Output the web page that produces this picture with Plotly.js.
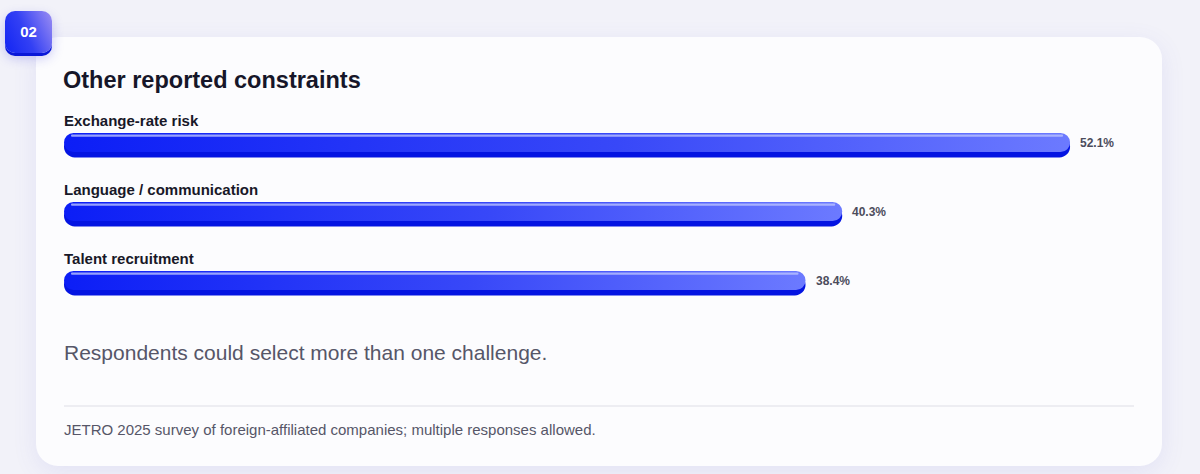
<!DOCTYPE html>
<html>
<head>
<meta charset="utf-8">
<script src="https://cdn.plot.ly/plotly-3.0.1.min.js"></script>
<style>
  html, body { margin:0; padding:0; width:1200px; height:474px; background:#f2f2f9; overflow:hidden; font-family:"Liberation Sans", Arial, sans-serif; }
  #card { position:absolute; left:36px; top:37px; width:1126px; height:429px; border-radius:22px; background:#fcfcfe; box-shadow:0 6px 24px rgba(90,90,210,0.10); }
  #badge { position:absolute; left:5px; top:11px; width:47px; height:42px; border-radius:10px;
           background:linear-gradient(65deg,#1224f3 0%,#3340f4 45%,#9c8ef2 100%);
           box-shadow:0 3px 0 #0a18d8, 0 5px 12px rgba(40,40,220,0.25);
           color:#fff; font-weight:bold; font-size:15px; line-height:41px; text-align:center; z-index:3; }
  #chart { position:absolute; left:0; top:0; width:1200px; height:474px; z-index:2; }
</style>
</head>
<body>
<div id="card"></div>
<div id="badge">02</div>
<div id="chart"></div>
<script>
const categories = ["Exchange-rate risk", "Language / communication", "Talent recruitment"];
const values = [52.1, 40.3, 38.4];
const valueLabels = ["52.1%", "40.3%", "38.4%"];
const titleText = "Other reported constraints";
const noteText = "Respondents could select more than one challenge.";
const sourceText = "JETRO 2025 survey of foreign-affiliated companies; multiple responses allowed.";

const FONT = '"Liberation Sans", Arial, sans-serif';

const shadow = {
  type:'bar', orientation:'h', x:values, y:categories,
  width:0.31, offset:-0.094,
  marker:{color:'#0414e2', line:{width:0}},
  hoverinfo:'skip'
};
const main = {
  type:'bar', orientation:'h', x:values, y:categories,
  width:0.276, offset:-0.138,
  marker:{color:'#3b4af8', line:{width:0}},
  hoverinfo:'skip'
};
const highlight = {
  type:'bar', orientation:'h', x:values, y:categories,
  width:0.03, offset:-0.115,
  marker:{color:'rgba(185,194,255,0.8)', line:{width:0}},
  hoverinfo:'skip'
};

const annotations = [];
categories.forEach((c,i)=>{
  annotations.push({x:0, y:c, xref:'x', yref:'y', xanchor:'left', yanchor:'middle', xshift:-2, yshift:22.5,
    text:'<b>'+c+'</b>', showarrow:false, font:{family:FONT, size:15, color:'#181828'}});
  annotations.push({x:values[i], y:c, xref:'x', yref:'y', xanchor:'left', yanchor:'middle', xshift:8, yshift:0,
    text:'<b>'+valueLabels[i]+'</b>', showarrow:false, font:{family:FONT, size:12, color:'#4c4c5c'}});
});
annotations.push({x:0, y:0, xref:'paper', yref:'paper', xanchor:'left', yanchor:'middle', xshift:-2, yshift:-37,
  text:noteText, showarrow:false, font:{family:FONT, size:21, color:'#565668'}});
annotations.push({x:0, y:0, xref:'paper', yref:'paper', xanchor:'left', yanchor:'middle', xshift:-2, yshift:-114,
  text:sourceText, showarrow:false, font:{family:FONT, size:15, color:'#565668'}});

const layout = {
  width:1200, height:474,
  margin:{l:64, r:66, t:108, b:159, pad:0},
  paper_bgcolor:'rgba(0,0,0,0)', plot_bgcolor:'rgba(0,0,0,0)',
  barmode:'overlay', showlegend:false,
  title:{text:'<b>'+titleText+'</b>', xref:'container', yref:'container', x:63/1200, xanchor:'left',
         y:1-80/474, yanchor:'middle', font:{family:FONT, size:23.5, color:'#161629'}},
  xaxis:{range:[0, 55.41], visible:false, showgrid:false, zeroline:false, fixedrange:true},
  yaxis:{type:'category', range:[2.5,-0.5], visible:false, showgrid:false, zeroline:false, fixedrange:true},
  annotations:annotations,
  shapes:[{type:'line', xref:'paper', yref:'paper', x0:0, x1:1, y0:-(406-315)/207, y1:-(406-315)/207,
           line:{color:'#dedee6', width:1}}]
};

function roundRect(x,y,w,h,r){
  r = Math.min(r, h/2, w/2);
  return 'M'+(x+r)+','+y+'H'+(x+w-r)+'A'+r+','+r+' 0 0 1 '+(x+w)+','+(y+r)+
         'V'+(y+h-r)+'A'+r+','+r+' 0 0 1 '+(x+w-r)+','+(y+h)+
         'H'+(x+r)+'A'+r+','+r+' 0 0 1 '+x+','+(y+h-r)+
         'V'+(y+r)+'A'+r+','+r+' 0 0 1 '+(x+r)+','+y+'Z';
}

Plotly.newPlot('chart', [shadow, main, highlight], layout, {displayModeBar:false, staticPlot:true}).then(gd=>{
  const svg = gd.querySelector('svg.main-svg');
  const ns = 'http://www.w3.org/2000/svg';
  let defs = svg.querySelector('defs');
  if(!defs){ defs = document.createElementNS(ns,'defs'); svg.insertBefore(defs, svg.firstChild); }
  const g = document.createElementNS(ns,'linearGradient');
  g.setAttribute('id','barGrad'); g.setAttribute('x1','0'); g.setAttribute('x2','1'); g.setAttribute('y1','0'); g.setAttribute('y2','0');
  [['0','#0c1ef6'],['0.55','#3848f8'],['1','#6c7aff']].forEach(([o,c])=>{
    const s = document.createElementNS(ns,'stop'); s.setAttribute('offset',o); s.setAttribute('stop-color',c); g.appendChild(s);
  });
  defs.appendChild(g);
  const traces = gd.querySelectorAll('.barlayer .trace');
  traces.forEach((t,ti)=>{
    t.querySelectorAll('path').forEach(p=>{
      const b = p.getBBox();
      if(ti===2){
        p.setAttribute('d', roundRect(b.x+7, b.y, b.width-14, b.height, 1));
      } else {
        p.setAttribute('d', roundRect(b.x, b.y, b.width, b.height, b.height/2));
      }
      if(ti===1) p.style.fill='url(#barGrad)';
    });
  });
});
</script>
</body>
</html>
